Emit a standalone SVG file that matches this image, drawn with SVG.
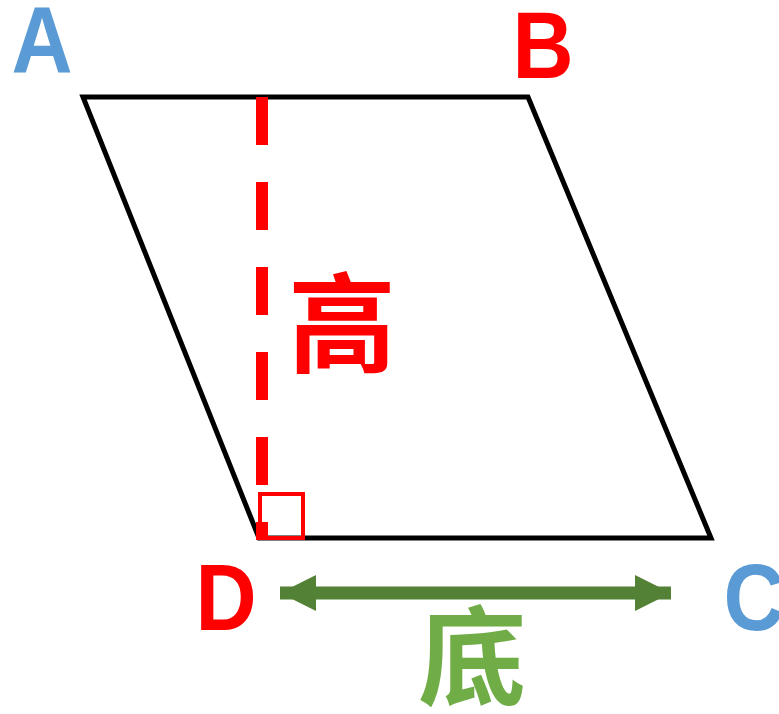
<svg xmlns="http://www.w3.org/2000/svg" width="779" height="714" viewBox="0 0 779 714">
<style>
.lbl{font-family:"Liberation Sans",Arial,sans-serif;font-weight:bold;font-size:94px;text-anchor:middle}
.blue{fill:#5B9BD5}
.red{fill:#FF0000}
.cjk{font-family:"Noto Sans CJK SC","Noto Sans CJK JP",sans-serif;font-weight:bold;font-size:108px;text-anchor:middle}
</style>
<defs>
<marker id="ah" viewBox="0 0 36 36" refX="36" refY="18" markerWidth="36" markerHeight="36" markerUnits="userSpaceOnUse" orient="auto-start-reverse">
<path d="M0,0 L36,18 L0,36 Z" fill="#538135"/>
</marker>
</defs>
<rect width="779" height="714" fill="#fff"/>
<g id="shape">
<polygon points="83,97 528,97 711,538 259,538" fill="none" stroke="#000" stroke-width="5" stroke-linejoin="miter"/>
</g>
<g id="height">
<line x1="262" y1="97" x2="262" y2="540" stroke="#FF0000" stroke-width="12" stroke-dasharray="48 37"/>
<rect x="260" y="494" width="43" height="44" fill="none" stroke="#FF0000" stroke-width="4"/>
<text class="cjk red" x="342" y="364">高</text>
</g>
<g id="connectors">
<line x1="280" y1="593" x2="671" y2="593" stroke="#538135" stroke-width="13" marker-start="url(#ah)" marker-end="url(#ah)"/>
</g>
<g id="base">
<text class="cjk" x="472" y="697" fill="#70AD47">底</text>
</g>
<g id="labels">
<text class="lbl blue" transform="translate(42,73) scale(0.9,1)">A</text>
<text class="lbl red" transform="translate(543,78) scale(0.9,1)">B</text>
<text class="lbl blue" transform="translate(754,630) scale(0.9,1)">C</text>
<text class="lbl red" transform="translate(226,630) scale(0.9,1)">D</text>
</g>
</svg>
